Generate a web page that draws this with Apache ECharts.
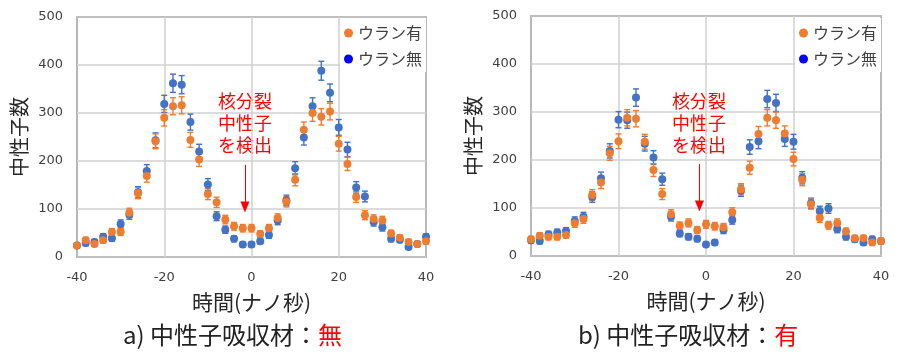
<!DOCTYPE html>
<html><head><meta charset="utf-8">
<script src="https://cdn.jsdelivr.net/npm/echarts@6/dist/echarts.min.js"></script>
<style>html,body{margin:0;padding:0;background:#fff}#c{width:900px;height:357px}</style>
</head><body><div id="c"></div>
<script>
const times = [-40,-38,-36,-34,-32,-30,-28,-26,-24,-22,-20,-18,-16,-14,-12,-10,-8,-6,-4,-2,0,2,4,6,8,10,12,14,16,18,20,22,24,26,28,30,32,34,36,38,40];
const xTicks = [-40,-20,0,20,40];
const yTicks = [0,100,200,300,400,500];
// panel a) absorber: none
const aWithU = [24,35,27,35,52,52,92,133,169,241,290,314,316,244,203,131,114,78,64,60,60,48,60,81,115,161,265,300,292,303,236,194,125,87,79,76,49,40,31,27,33];
const aNoU   = [24,29,31,42,39,69,88,135,179,243,319,362,359,281,220,151,85,57,38,26,26,33,46,76,118,185,249,314,388,342,270,224,145,126,73,62,38,36,21,27,42];
// panel b) absorber: present
const bWithU = [35,42,40,40,44,68,77,127,153,214,239,288,286,238,179,129,87,63,69,54,66,62,60,91,139,184,254,288,283,255,202,159,108,79,64,69,51,37,37,28,31];
const bNoU   = [33,31,45,49,52,73,82,123,162,219,284,283,330,234,205,160,82,47,40,36,24,28,54,75,136,227,239,327,319,244,238,163,110,94,99,56,40,35,28,35,31];
const nameWith = 'ウラン有', nameWithout = 'ウラン無';
const cOrange = '#ED7D31', cBlue = '#4472C4';
const arrowX = -1.5, arrowTop = 192, arrowBottom = 104;

const pts = v => times.map((t,i)=>[t, v[i]]);
// Poisson counting error: sqrt(N)
const errs = v => times.map((t,i)=>[t, v[i]-Math.sqrt(v[i]), v[i]+Math.sqrt(v[i])]);

function errSeries(v, color, idx){
  return {type:'custom', xAxisIndex:idx, yAxisIndex:idx, data:errs(v), z:2, silent:true,
    renderItem:(params, api)=>{
      const lo = api.coord([api.value(0), api.value(1)]);
      const hi = api.coord([api.value(0), api.value(2)]);
      const w = 3;
      const st = {stroke:color, lineWidth:1.4};
      return {type:'group', children:[
        {type:'line', shape:{x1:lo[0],y1:lo[1],x2:hi[0],y2:hi[1]}, style:st},
        {type:'line', shape:{x1:lo[0]-w,y1:lo[1],x2:lo[0]+w,y2:lo[1]}, style:st},
        {type:'line', shape:{x1:hi[0]-w,y1:hi[1],x2:hi[0]+w,y2:hi[1]}, style:st}
      ]};
    }};
}
function scat(name, v, color, idx, z, withArrow){
  const s = {type:'scatter', name, xAxisIndex:idx, yAxisIndex:idx, data:pts(v), symbolSize:8, z,
    itemStyle:{color, opacity:1}};
  if (withArrow) {
    s.markLine = {silent:true, symbol:['none','triangle'], symbolSize:[9,11],
      lineStyle:{color:'#FF0000', width:1, type:'solid'}, label:{show:false},
      data:[[{coord:[arrowX, arrowTop]},{coord:[arrowX, arrowBottom]}]]};
  }
  return s;
}
const font = 'DejaVu Sans';
const jp = '"Noto Sans CJK JP"';
function xAx(idx){
  return {gridIndex:idx, type:'value', min:xTicks[0], max:xTicks[xTicks.length-1], interval:20,
    name:'時間(ナノ秒)', nameLocation:'middle', nameGap:35,
    nameTextStyle:{fontFamily:jp, fontSize:21, color:'#262626'},
    axisLine:{show:false}, axisTick:{show:false},
    axisLabel:{fontFamily:font, fontSize:13, color:'#404040', margin:14},
    splitLine:{show:true, lineStyle:{color:'#D0D0D0', width:1.5}}};
}
function yAx(idx){
  return {gridIndex:idx, type:'value', min:yTicks[0], max:yTicks[yTicks.length-1], interval:100,
    name:'中性子数', nameLocation:'middle', nameGap:48, nameRotate:90,
    nameTextStyle:{fontFamily:jp, fontSize:20, color:'#262626'},
    axisLine:{show:false}, axisTick:{show:false},
    axisLabel:{fontFamily:font, fontSize:13, color:'#404040', margin:14},
    splitLine:{show:true, lineStyle:{color:'#D0D0D0', width:1.5}}};
}
function legend(left){
  return {orient:'vertical', left, top:18, itemGap:10, itemWidth:9, itemHeight:9,
    padding:[7,4,5,4], backgroundColor:'#fff', z:10,
    icon:'circle', textStyle:{fontFamily:jp, fontSize:16, color:'#404040'},
    data:[{name:nameWith, itemStyle:{color:cOrange}}, {name:nameWithout, itemStyle:{color:'#0000FF'}}]};
}
function annot(cx){
  return {type:'text', left:cx, top:90, style:{text:'核分裂\n中性子\nを検出', fill:'#FF0000',
    font:'18px '+jp, textAlign:'center', lineHeight:22}};
}
function caption(cx, letter, val){
  return {type:'text', left:cx, top:323, style:{
    text:'{k|'+letter+') 中性子吸収材：}{r|'+val+'}',
    rich:{k:{fill:'#222', font:'24px '+jp}, r:{fill:'#FF0000', font:'24px '+jp}}}};
}
const chart = echarts.init(document.getElementById('c'), null, {renderer:'canvas'});
chart.setOption({
  animation:false,
  grid:[
    {left:77, top:17, width:349, height:240, show:true, borderColor:'#1a1a1a', borderWidth:1.2},
    {left:531, top:16, width:350, height:240, show:true, borderColor:'#1a1a1a', borderWidth:1.2}
  ],
  xAxis:[xAx(0), xAx(1)],
  yAxis:[yAx(0), yAx(1)],
  legend:[legend(340), legend(795)],
  series:[
    errSeries(aNoU, cBlue, 0), scat(nameWithout, aNoU, cBlue, 0, 3, true),
    errSeries(aWithU, cOrange, 0), scat(nameWith, aWithU, cOrange, 0, 4, false),
    errSeries(bNoU, cBlue, 1), scat(nameWithout, bNoU, cBlue, 1, 3, true),
    errSeries(bWithU, cOrange, 1), scat(nameWith, bWithU, cOrange, 1, 4, false)
  ],
  graphic:[annot(218), annot(672), caption(123,'a','無'), caption(578,'b','有')]
});
</script></body></html>
